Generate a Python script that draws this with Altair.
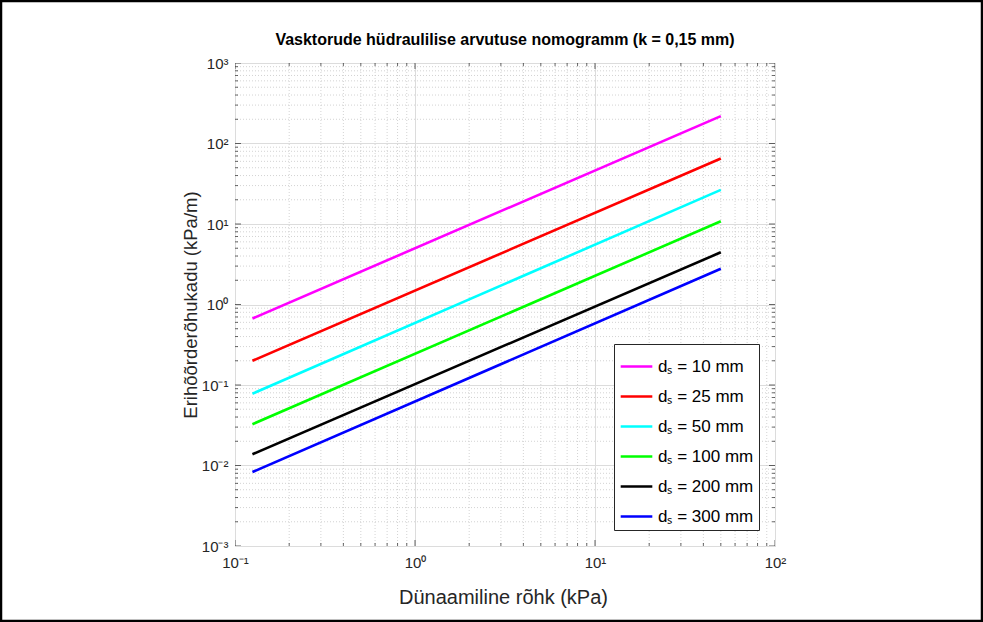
import altair as alt
import pandas as pd

# ---- data ----
labels = ["dₛ = 10 mm", "dₛ = 25 mm", "dₛ = 50 mm", "dₛ = 100 mm", "dₛ = 200 mm", "dₛ = 300 mm"]
colors = ["#ff00ff", "#ff0000", "#00ffff", "#00ff00", "#000000", "#0000ff"]
x_pts = [0.125, 50]
y_start = [0.67, 0.20, 0.078, 0.0326, 0.0138, 0.0083]
y_end = [219, 65, 26.5, 10.8, 4.45, 2.78]

x_major = [0.1, 1, 10, 100]
y_major = [0.001, 0.01, 0.1, 1, 10, 100, 1000]
mult = [2, 3, 4, 5, 6, 7, 8, 9]
x_minor = [m * d for d in [0.1, 1, 10] for m in mult]
y_minor = [m * d for d in [0.001, 0.01, 0.1, 1, 10, 100] for m in mult]

rows = []
for i, lab in enumerate(labels):
    rows.append({"s": lab, "x": x_pts[0], "y": y_start[i], "o": 0})
    rows.append({"s": lab, "x": x_pts[1], "y": y_end[i], "o": 1})
df = pd.DataFrame(rows)

W, H = 540, 483
FONT = "Liberation Sans"
TXT = "#262626"

xscale = alt.Scale(type="log", domain=[0.1, 100], nice=False)
yscale = alt.Scale(type="log", domain=[0.001, 1000], nice=False)

SUP = {0.001: "10⁻³", 0.01: "10⁻²", 0.1: "10⁻¹", 1: "10⁰", 10: "10¹", 100: "10²", 1000: "10³"}

def lab_expr(vals):
    expr = "''"
    for v in sorted(vals):
        expr = f"datum.value > {v*0.5} ? '{SUP[v]}' : ({expr})"
    return expr

xaxis = alt.Axis(values=x_major, grid=True, gridColor="#dcdcdc", gridWidth=1,
                 ticks=False, domain=False, labelExpr=lab_expr(x_major),
                 labelFont=FONT, labelFontSize=15, labelColor=TXT, labelPadding=9,
                 labelFlush=False,
                 title="Dünaamiline rõhk (kPa)", titleFont=FONT, titleFontSize=20,
                 titleFontWeight="normal", titleColor=TXT, titleX=W / 2 - 2, titleY=51,
                 titleBaseline="middle", titleAnchor="middle")
yaxis = alt.Axis(values=y_major, grid=True, gridColor="#dcdcdc", gridWidth=1,
                 ticks=False, domain=False, labelExpr=lab_expr(y_major),
                 labelFont=FONT, labelFontSize=15, labelColor=TXT, labelPadding=7,
                 labelFlush=False,
                 title="Erihõõrderõhukadu (kPa/m)", titleFont=FONT, titleFontSize=18.5,
                 titleFontWeight="normal", titleColor=TXT, titleX=-45, titleY=H / 2,
                 titleBaseline="middle", titleAnchor="middle", titleAngle=270)

xminor_df = pd.DataFrame({"v": x_minor})
yminor_df = pd.DataFrame({"v": y_minor})
xmaj_df = pd.DataFrame({"v": x_major})
ymaj_df = pd.DataFrame({"v": y_major})

grid_x = alt.Chart(xminor_df).mark_rule(color="#c8c8c8", strokeWidth=0.8, strokeDash=[1, 2]).encode(
    x=alt.X("v:Q", scale=xscale, axis=xaxis))
grid_y = alt.Chart(yminor_df).mark_rule(color="#c8c8c8", strokeWidth=0.8, strokeDash=[1, 2]).encode(
    y=alt.Y("v:Q", scale=yscale, axis=yaxis))

def xticks(d, size):
    return [alt.Chart(d).mark_tick(color=TXT, size=size, thickness=1, clip=True,
                                   orient="vertical").encode(
        x=alt.X("v:Q", scale=xscale), y=alt.YDatum(edge)) for edge in [0.001, 1000]]

def yticks(d, size):
    return [alt.Chart(d).mark_tick(color=TXT, size=size, thickness=1, clip=True,
                                   orient="horizontal").encode(
        y=alt.Y("v:Q", scale=yscale), x=alt.XDatum(edge)) for edge in [0.1, 100]]

lines = alt.Chart(df).mark_line(strokeWidth=2.6, clip=True).encode(
    x=alt.X("x:Q", scale=xscale),
    y=alt.Y("y:Q", scale=yscale),
    order="o:Q",
    color=alt.Color("s:N", scale=alt.Scale(domain=labels, range=colors), sort=labels,
                    legend=alt.Legend(title=None, orient="none", legendX=379, legendY=281,
                                      symbolType="stroke", symbolSize=1000, symbolStrokeWidth=2.6,
                                      labelFont=FONT, labelFontSize=17, labelColor="#000000",
                                      labelOffset=4, rowPadding=4, padding=5,
                                      strokeColor=TXT, fillColor="white", labelLimit=200)),
)

frame = alt.Chart(pd.DataFrame({"a": [0]})).mark_rect(
    fill=None, filled=False, stroke="black", strokeWidth=2.5, clip=False).encode(
    x=alt.value(-234), x2=alt.value(W + 207), y=alt.value(-62), y2=alt.value(H + 75))

layers = ([grid_x, grid_y] + xticks(xmaj_df, 12) + xticks(xminor_df, 6)
          + yticks(ymaj_df, 12) + yticks(yminor_df, 6) + [lines, frame])

chart = alt.layer(*layers).properties(
    width=W, height=H, autosize="none",
    padding={"left": 235, "top": 63, "right": 983 - 235 - W, "bottom": 622 - 63 - H},
    title=alt.TitleParams("Vasktorude hüdraulilise arvutuse nomogramm (k = 0,15 mm)",
                          font=FONT, fontSize=16, fontWeight="bold", color="#000000",
                          offset=0, dy=48, anchor="middle", frame="group"),
).configure_view(stroke=TXT, strokeWidth=1).configure(background="white")

chart.save("out.html", embed_options={"renderer": "svg", "actions": False})
